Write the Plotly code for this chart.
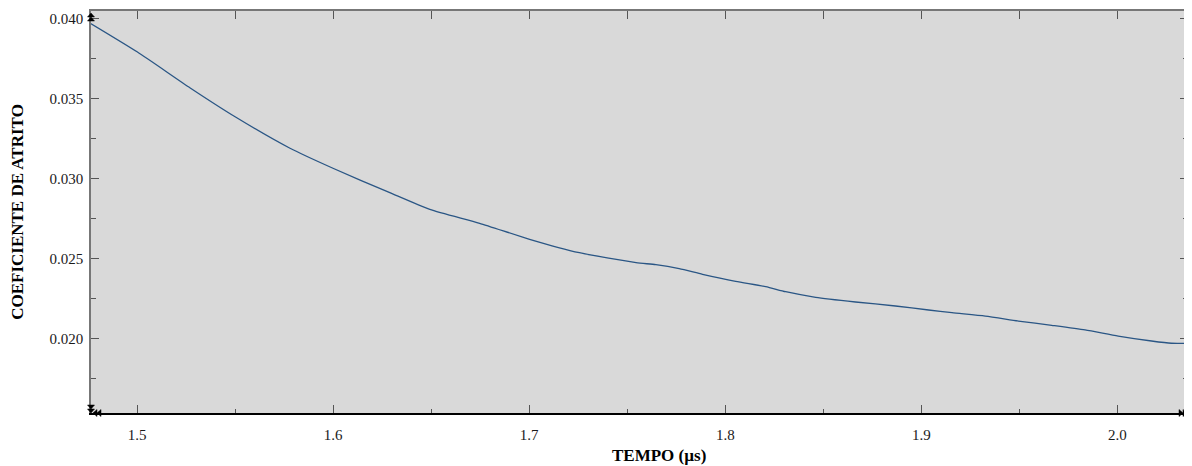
import plotly.graph_objects as go

tempo = [1.4762, 1.5000, 1.5271, 1.5500, 1.5780, 1.5999, 1.6289, 1.6493, 1.6747,
         1.7002, 1.7256, 1.7545, 1.7646, 1.7765, 1.7884, 1.8053, 1.8206, 1.8308,
         1.8461, 1.8664, 1.8868, 1.9037, 1.9156, 1.9326, 1.9495, 1.9665, 1.9835,
         2.0004, 2.0174, 2.0275, 2.0360]
coef = [0.03969, 0.03791, 0.03565, 0.03385, 0.03188, 0.03063, 0.02910, 0.02806, 0.02719,
        0.02619, 0.02535, 0.02473, 0.02460, 0.02435, 0.02400, 0.02356, 0.02323, 0.02291,
        0.02256, 0.02227, 0.02202, 0.02177, 0.02160, 0.02139, 0.02108, 0.02081, 0.02052,
        0.02014, 0.01983, 0.01969, 0.01969]

x_ticks = [1.5, 1.6, 1.7, 1.8, 1.9, 2.0]
x_ticklabels = ["1.5", "1.6", "1.7", "1.8", "1.9", "2.0"]
y_ticks = [0.020, 0.025, 0.030, 0.035, 0.040]
y_ticklabels = ["0.020", "0.025", "0.030", "0.035", "0.040"]
x_title = "TEMPO (µs)"
y_title = "COEFICIENTE DE ATRITO"

XR = [1.4765, 2.036]
YR = [0.01533, 0.04046]
font = "Liberation Serif, Times New Roman, serif"

fig = go.Figure()
fig.add_trace(go.Scatter(x=tempo, y=coef, mode="lines", line=dict(color="#2a5685", width=1.3, shape="spline", smoothing=0.6), showlegend=False))
fig.add_trace(go.Scatter(x=tempo, y=coef, mode="lines", xaxis="x2", line=dict(width=0), opacity=0, showlegend=False, hoverinfo="skip"))

fig.update_layout(
    width=1184, height=458,
    margin=dict(l=83, r=2, t=3, b=53),
    paper_bgcolor="white", plot_bgcolor="#d9d9d9",
    font=dict(family=font, size=15, color="#1a1a1a"),
    xaxis=dict(range=XR, tickvals=x_ticks, ticktext=x_ticklabels, showline=True, linecolor="black", linewidth=1.5,
               ticks="inside", ticklen=8, tickcolor="#555", tickwidth=1, showgrid=False, zeroline=False,
               minor=dict(dtick=0.05, tick0=1.5, ticks="inside", ticklen=4, tickcolor="#555"),
               ticklabelstandoff=7),
    xaxis2=dict(range=XR, overlaying="x", side="top", showline=True, linecolor="#777", linewidth=1.5,
                tickvals=x_ticks + [1.55, 1.65, 1.75, 1.85, 1.95], ticks="inside", ticklen=8, tickcolor="#555",
                showticklabels=False, showgrid=False, zeroline=False),
    yaxis=dict(range=YR, tickvals=y_ticks, ticktext=y_ticklabels, showline=True, linecolor="#777", linewidth=1.5, mirror="ticks",
               ticks="inside", ticklen=8, tickcolor="#555", showgrid=False, zeroline=False,
               minor=dict(dtick=0.0025, tick0=0.0, ticks="inside", ticklen=5, tickcolor="#555"),
               ticklabelstandoff=3,
               title=dict(text="<b>" + y_title + "</b>", font=dict(size=17, color="black"), standoff=22)),
    annotations=[dict(text="<b>" + x_title + "</b>", xref="paper", yref="paper", x=0.5177, y=0,
                      yshift=-42, xanchor="center", yanchor="middle", showarrow=False,
                      font=dict(size=17, color="black"))],
)

def arrow(xanchor, yanchor, path):
    fig.add_shape(type="path", xref="paper", yref="paper", xsizemode="pixel", ysizemode="pixel",
                  xanchor=xanchor, yanchor=yanchor, path=path, fillcolor="black", line=dict(color="black", width=0.5), layer="above")

# y-axis top arrows (up)
arrow(0, 1, "M -3.5 -6 L 3.5 -6 L 0 -2 Z")
arrow(0, 1, "M -3.5 -10 L 3.5 -10 L 0 -6 Z")
# y-axis bottom arrows (down)
arrow(0, 0, "M -3.5 8 L 3.5 8 L 0 4 Z")
arrow(0, 0, "M -3.5 4 L 3.5 4 L 0 0 Z")
# x-axis left arrows
arrow(0, 0, "M 6 -3.5 L 6 3.5 L 2 0 Z")
arrow(0, 0, "M 10 -3.5 L 10 3.5 L 6 0 Z")
# x-axis right arrows
arrow(1, 0, "M -9 -3.5 L -9 3.5 L -5 0 Z")
arrow(1, 0, "M -5 -3.5 L -5 3.5 L -1 0 Z")

fig.write_html("out.html")
